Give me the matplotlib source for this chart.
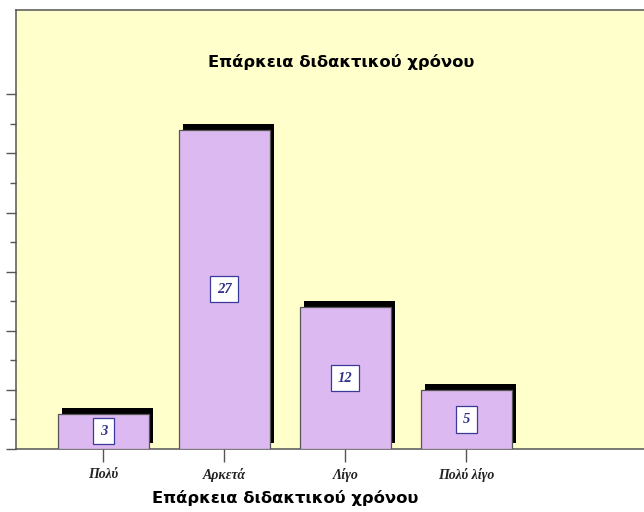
import matplotlib
matplotlib.use("Agg")
import matplotlib.pyplot as plt
import matplotlib.patheffects as pe
from matplotlib.ticker import FixedLocator

categories = ["Πολύ", "Αρκετά", "Λίγο", "Πολύ λίγο"]
values = [3, 27, 12, 5]
major_ticks = [0, 5, 10, 15, 20, 25, 30]
minor_ticks = [2.5, 7.5, 12.5, 17.5, 22.5, 27.5]
title = "Επάρκεια διδακτικού χρόνου"
xlabel = "Επάρκεια διδακτικού χρόνου"

W, H = 644, 512
fig = plt.figure(figsize=(W / 100, H / 100), dpi=100)
fig.patch.set_facecolor("white")

ax_left, ax_right, ax_top, ax_bottom = 15.7, 652, 10, 449
ax = fig.add_axes([ax_left / W, 1 - ax_bottom / H,
                   (ax_right - ax_left) / W, (ax_bottom - ax_top) / H])
ax.set_facecolor("#FFFFCC")

x = list(range(len(categories)))
bars = ax.bar(x, values, width=0.755, color="#DDB9F1", edgecolor="#555555",
              linewidth=0.9, zorder=3)
for b in bars:
    b.set_path_effects([
        pe.SimplePatchShadow(offset=(3.0, 4.2), shadow_rgbFace="black", alpha=1.0),
        pe.Normal(),
    ])

for xi, v in zip(x, values):
    ax.text(xi, v / 2, str(v), ha="center", va="center", fontsize=10.5,
            family="Liberation Serif", style="italic", fontweight="bold",
            color="#333388", zorder=5,
            bbox=dict(boxstyle="square,pad=0.45", fc="white", ec="#3a3a9a", lw=0.9))

px_per_unit = 121.0
x0 = 103.3
ax.set_xlim((ax_left - x0) / px_per_unit, (ax_right - x0) / px_per_unit)
ax.set_ylim(0, (ax_bottom - ax_top) / 11.82)

ax.set_xticks(x)
ax.set_xticklabels(categories, family="Liberation Serif", style="italic",
                   fontweight="bold", fontsize=10, color="#222222")
ax.yaxis.set_major_locator(FixedLocator(major_ticks))
ax.yaxis.set_minor_locator(FixedLocator(minor_ticks))
ax.tick_params(axis="y", which="major", length=7.2, width=1.0, color="#555555",
               labelleft=False)
ax.tick_params(axis="y", which="minor", length=4.3, width=1.0, color="#555555")
ax.tick_params(axis="x", which="major", length=9.4, width=1.0, color="#555555", pad=4)

for s in ["left", "top", "bottom"]:
    ax.spines[s].set_color("#555555")
    ax.spines[s].set_linewidth(1.1)
ax.spines["right"].set_visible(False)

fig.text(341 / W, 1 - 62 / H, title, ha="center", va="center", fontsize=11.8,
         fontweight="bold", family="DejaVu Sans", color="black")
ax.text(1.5, -49 / 11.82, xlabel, ha="center", va="center", fontsize=11.8,
        fontweight="bold", family="DejaVu Sans", color="black", clip_on=False)

fig.savefig("out.png", dpi=100)
